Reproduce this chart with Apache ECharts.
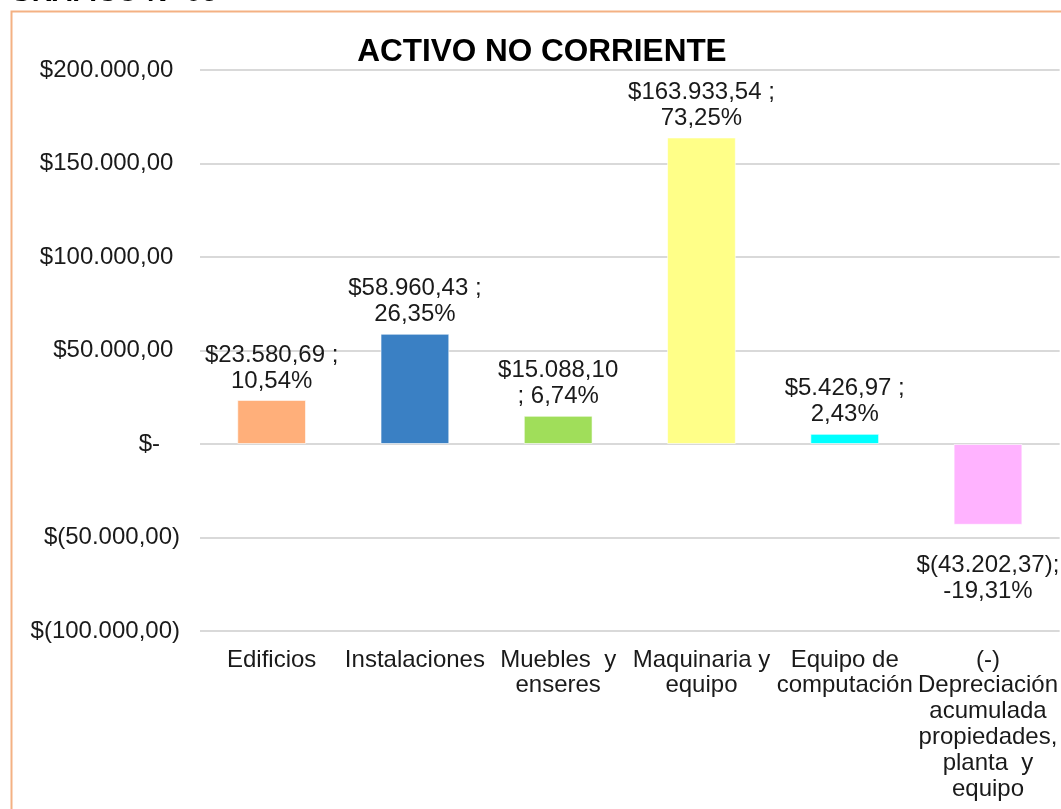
<!DOCTYPE html>
<html>
<head>
<meta charset="utf-8">
<script src="https://cdn.jsdelivr.net/npm/echarts@6/dist/echarts.min.js"></script>
<style>
html, body { margin: 0; padding: 0; background: #fff; }
#chart { width: 1061px; height: 809px; }
</style>
</head>
<body>
<div id="chart"></div>
<script>
var categories = ['Edificios', 'Instalaciones', 'Muebles  y\nenseres', 'Maquinaria y\nequipo',
    'Equipo de\ncomputación', '(-)\nDepreciación\nacumulada\npropiedades,\nplanta  y\nequipo'];
var values = [23580.69, 58960.43, 15088.10, 163933.54, 5426.97, -43202.37];
var labels = ['$23.580,69 ;\n10,54%', '$58.960,43 ;\n26,35%', '$15.088,10\n; 6,74%',
    '$163.933,54 ;\n73,25%', '$5.426,97 ;\n2,43%', '$(43.202,37);\n-19,31%'];
var colors = ['#FFAF7A', '#3A80C4', '#A0DE5A', '#FFFF88', '#00FFFF', '#FFB3FF'];
var yTicks = {'200000': '$200.000,00 ', '150000': '$150.000,00 ', '100000': '$100.000,00 ',
    '50000': '$50.000,00 ', '0': '$-   ', '-50000': '$(50.000,00)', '-100000': '$(100.000,00)'};

var font = 'Liberation Sans, Arial, sans-serif';
var myChart = echarts.init(document.getElementById('chart'));

var data = values.map(function (v, i) {
    return {
        value: v,
        itemStyle: { color: colors[i] },
        label: {
            formatter: labels[i],
            position: v < 0 ? 'bottom' : 'top',
            distance: v < 0 ? 28 : 6
        }
    };
});

var option = {
    backgroundColor: '#fff',
    animation: false,
    title: {
        text: 'ACTIVO NO CORRIENTE',
        left: 537,
        textAlign: 'center',
        top: 31,
        textStyle: { fontFamily: font, fontSize: 31.5, fontWeight: 'bold', color: '#000' }
    },
    graphic: [
        {
            type: 'rect',
            left: 9, top: 9,
            shape: { width: 1100, height: 900 },
            style: { fill: 'none', stroke: '#F4B183', lineWidth: 2 },
            z: -1
        },
        {
            type: 'text',
            left: 10, top: -21,
            style: { text: 'GRAFICO N° 05', font: 'bold 28px ' + font, fill: '#000' }
        }
    ],
    grid: { left: 200, right: 1, top: 70, bottom: 178 },
    xAxis: {
        type: 'category',
        data: categories,
        axisLine: { show: false, onZero: false },
        axisTick: { show: false },
        axisLabel: {
            interval: 0, margin: 16, color: '#1a1a1a', fontFamily: font,
            fontSize: 24, lineHeight: 25.8, verticalAlign: 'top'
        }
    },
    yAxis: {
        type: 'value',
        min: -100000, max: 200000, interval: 50000,
        axisLine: { show: false },
        axisTick: { show: false },
        splitLine: { lineStyle: { color: '#D9D9D9', width: 2 } },
        axisLabel: {
            margin: 20, color: '#1a1a1a', fontFamily: font, fontSize: 24,
            formatter: function (v) { return yTicks[String(v)]; }
        }
    },
    series: [{
        type: 'bar',
        data: data,
        barWidth: '48%',
        itemStyle: { borderColor: 'rgba(255,255,255,0.6)', borderWidth: 1 },
        label: {
            show: true, color: '#1a1a1a', fontFamily: font, fontSize: 24,
            lineHeight: 26, align: 'center'
        }
    }]
};
myChart.setOption(option);
</script>
</body>
</html>
